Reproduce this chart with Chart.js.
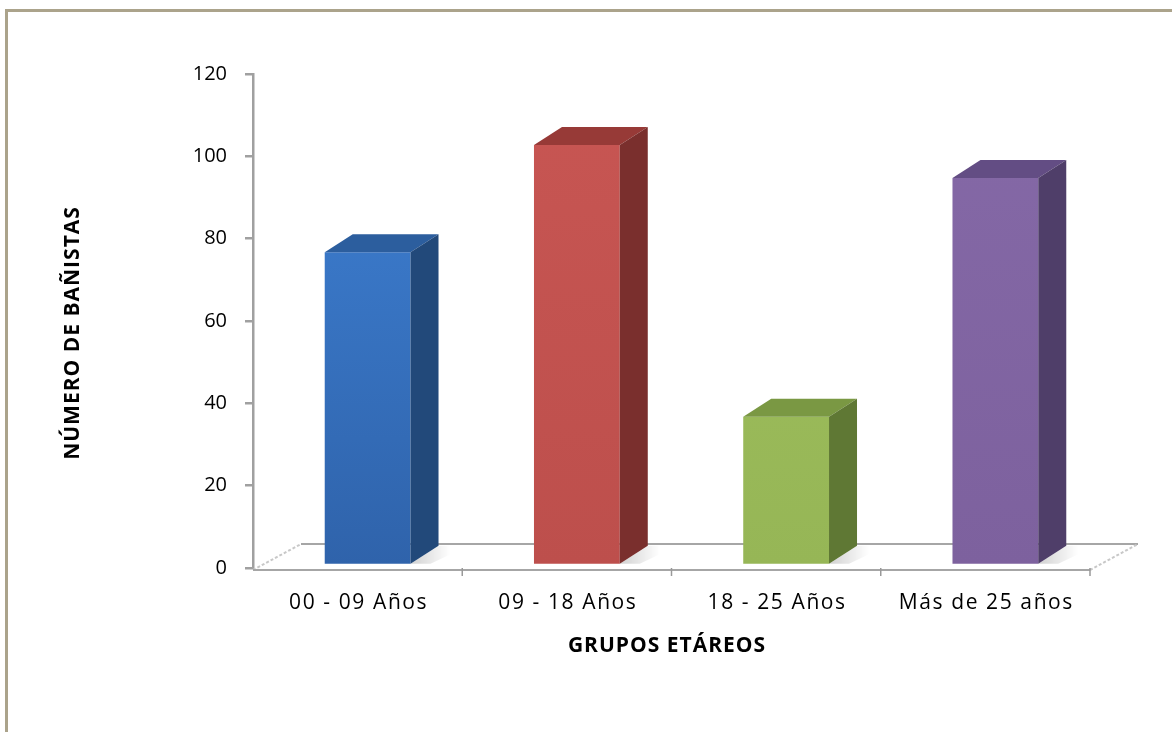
<!DOCTYPE html>
<html>
<head>
<meta charset="utf-8">
<script src="https://cdn.jsdelivr.net/npm/chart.js@4.4.1/dist/chart.umd.min.js"></script>
<style>
  html, body { margin: 0; padding: 0; background: #ffffff; overflow: hidden; }
  #marco {
    position: absolute; left: 5px; top: 9px; right: -10px; bottom: -10px;
    border-top: 3px solid #aba38b; border-left: 3px solid #aba38b;
  }
  #graficoBanistas { position: absolute; left: 0; top: 0; }
</style>
</head>
<body>
<div id="marco"></div>
<canvas id="graficoBanistas" width="1172" height="732"></canvas>
<script>
const GRUPOS = ["00 - 09 Años", "09 - 18 Años", "18 - 25 Años", "Más de 25 años"];
const BANISTAS = [76, 102, 36, 94];
const TICKS_Y = [0, 20, 40, 60, 80, 100, 120];

const FUENTE = "'Open Sans', 'Liberation Sans', sans-serif";

// colores por barra: frente (claro, oscuro), tapa, lateral
const COLORES_FRENTE = [
  ["#3f82d6", "#2f63ab"],
  ["#c85653", "#bd4f4c"],
  ["#a0c05e", "#96b656"],
  ["#8569a7", "#7d619e"],
];
const COLORES_TAPA = ["#2c5e9e", "#973a37", "#7a9843", "#634d84"];
const COLORES_LADO = ["#22497a", "#7a2f2d", "#5f7834", "#4f3e69"];

// profundidad 3D
const PROF_BARRA = { dx: 28, dy: -18 };
const PROF_PISO = { dx: 48, dy: -26 };
const DESPLAZA_BARRA = { dx: 10, dy: -3 };

const degradadoFrente = (ctx) => {
  const chart = ctx.chart;
  const area = chart.chartArea;
  if (!area) return COLORES_FRENTE[ctx.dataIndex][0];
  const g = chart.ctx.createLinearGradient(0, area.top, 0, area.bottom);
  const [claro, oscuro] = COLORES_FRENTE[ctx.dataIndex];
  g.addColorStop(0, claro);
  g.addColorStop(1, oscuro);
  return g;
};

const pluginPiso = {
  id: "piso3d",
  beforeDatasetsDraw(chart) {
    const { ctx } = chart;
    const x = chart.scales.x;
    const y = chart.scales.y;
    const base = y.getPixelForValue(0) + 2;
    const izq = x.left;
    const der = x.right;
    ctx.save();
    ctx.strokeStyle = "#a6a6a6";
    ctx.lineWidth = 2;
    // borde trasero
    ctx.beginPath();
    ctx.moveTo(izq + PROF_PISO.dx, base + PROF_PISO.dy);
    ctx.lineTo(der + PROF_PISO.dx, base + PROF_PISO.dy);
    ctx.stroke();
    // diagonales
    ctx.strokeStyle = "#c8c8c8";
    ctx.setLineDash([3, 2]);
    ctx.beginPath();
    ctx.moveTo(izq, base);
    ctx.lineTo(izq + PROF_PISO.dx, base + PROF_PISO.dy);
    ctx.moveTo(der, base);
    ctx.lineTo(der + PROF_PISO.dx, base + PROF_PISO.dy);
    ctx.stroke();
    ctx.setLineDash([]);
    // borde frontal
    ctx.strokeStyle = "#a6a6a6";
    ctx.beginPath();
    ctx.moveTo(izq, base);
    ctx.lineTo(der, base);
    ctx.stroke();
    // marcas de categoria
    const ancho = (der - izq) / GRUPOS.length;
    ctx.lineWidth = 1.5;
    ctx.strokeStyle = "#999999";
    for (let i = 1; i <= GRUPOS.length; i++) {
      const px = izq + ancho * i;
      ctx.beginPath();
      ctx.moveTo(px, base - 2);
      ctx.lineTo(px, base + 6);
      ctx.stroke();
    }
    ctx.restore();

    // sombras suaves de las barras sobre el piso
    const meta = chart.getDatasetMeta(0);
    ctx.save();
    meta.data.forEach((barra) => {
      const d = barra.getProps(["x", "width", "base"], true);
      const r = d.x + d.width / 2 + DESPLAZA_BARRA.dx;
      const b = d.base + DESPLAZA_BARRA.dy;
      const g = ctx.createLinearGradient(r, 0, r + 40, 0);
      g.addColorStop(0, "rgba(0,0,0,0.18)");
      g.addColorStop(1, "rgba(0,0,0,0)");
      ctx.fillStyle = g;
      ctx.beginPath();
      ctx.moveTo(r, b);
      ctx.lineTo(r + PROF_BARRA.dx, b + PROF_BARRA.dy);
      ctx.lineTo(r + PROF_BARRA.dx + 30, b + PROF_BARRA.dy);
      ctx.lineTo(r + 20, b);
      ctx.closePath();
      ctx.fill();
    });
    ctx.restore();

    ctx.save();
    ctx.translate(DESPLAZA_BARRA.dx, DESPLAZA_BARRA.dy);
  },
  afterDatasetsDraw(chart) {
    const { ctx } = chart;
    const meta = chart.getDatasetMeta(0);
    meta.data.forEach((barra, i) => {
      const d = barra.getProps(["x", "y", "width", "base"], true);
      const l = d.x - d.width / 2;
      const r = d.x + d.width / 2;
      const t = d.y;
      const b = d.base;
      const { dx, dy } = PROF_BARRA;
      ctx.fillStyle = COLORES_TAPA[i];
      ctx.beginPath();
      ctx.moveTo(l, t);
      ctx.lineTo(l + dx, t + dy);
      ctx.lineTo(r + dx, t + dy);
      ctx.lineTo(r, t);
      ctx.closePath();
      ctx.fill();

      ctx.fillStyle = COLORES_LADO[i];
      ctx.beginPath();
      ctx.moveTo(r, t);
      ctx.lineTo(r + dx, t + dy);
      ctx.lineTo(r + dx, b + dy);
      ctx.lineTo(r, b);
      ctx.closePath();
      ctx.fill();
    });
    ctx.restore();
  },
  afterDraw(chart) {
    const { ctx } = chart;
    const x = chart.scales.x;
    ctx.save();
    ctx.fillStyle = "#000000";
    ctx.textAlign = "center";
    ctx.textBaseline = "middle";

    // etiquetas de categoria
    ctx.font = "21px " + FUENTE;
    ctx.letterSpacing = "1.6px";
    GRUPOS.forEach((grupo, i) => {
      ctx.fillText(grupo, x.getPixelForValue(i) + 1, 603);
    });

    // titulos de ejes
    ctx.font = "bold 21px " + FUENTE;
    ctx.letterSpacing = "1px";
    ctx.fillText("GRUPOS ETÁREOS", 667, 646);
    ctx.translate(73, 333);
    ctx.rotate(-Math.PI / 2);
    ctx.fillText("NÚMERO DE BAÑISTAS", 0, 0);
    ctx.restore();
  },
};

const canvas = document.getElementById("graficoBanistas");

new Chart(canvas, {
  type: "bar",
  data: {
    labels: GRUPOS,
    datasets: [
      {
        data: BANISTAS,
        backgroundColor: degradadoFrente,
        borderWidth: 0,
        categoryPercentage: 1,
        barPercentage: 0.41,
      },
    ],
  },
  options: {
    responsive: false,
    animation: false,
    devicePixelRatio: 1,
    layout: { padding: { top: 74, right: 82, bottom: 0, left: 0 } },
    plugins: {
      legend: { display: false },
      tooltip: { enabled: false },
    },
    scales: {
      x: {
        grid: { display: false, drawTicks: false },
        border: { display: false },
        ticks: { display: false },
        afterFit: (escala) => {
          escala.height = 164;
        },
      },
      y: {
        min: 0,
        max: 120,
        afterBuildTicks: (escala) => {
          escala.ticks = TICKS_Y.map((v) => ({ value: v }));
        },
        grid: {
          drawOnChartArea: false,
          color: "#a0a0a0",
          tickLength: 8,
          lineWidth: 2.5,
        },
        border: { display: true, color: "#a0a0a0", width: 2.5 },
        ticks: {
          color: "#000000",
          padding: 18,
          font: { family: FUENTE, size: 20 },
        },
        afterFit: (escala) => {
          escala.width = 253;
        },
      },
    },
  },
  plugins: [pluginPiso],
});
</script>
</body>
</html>
